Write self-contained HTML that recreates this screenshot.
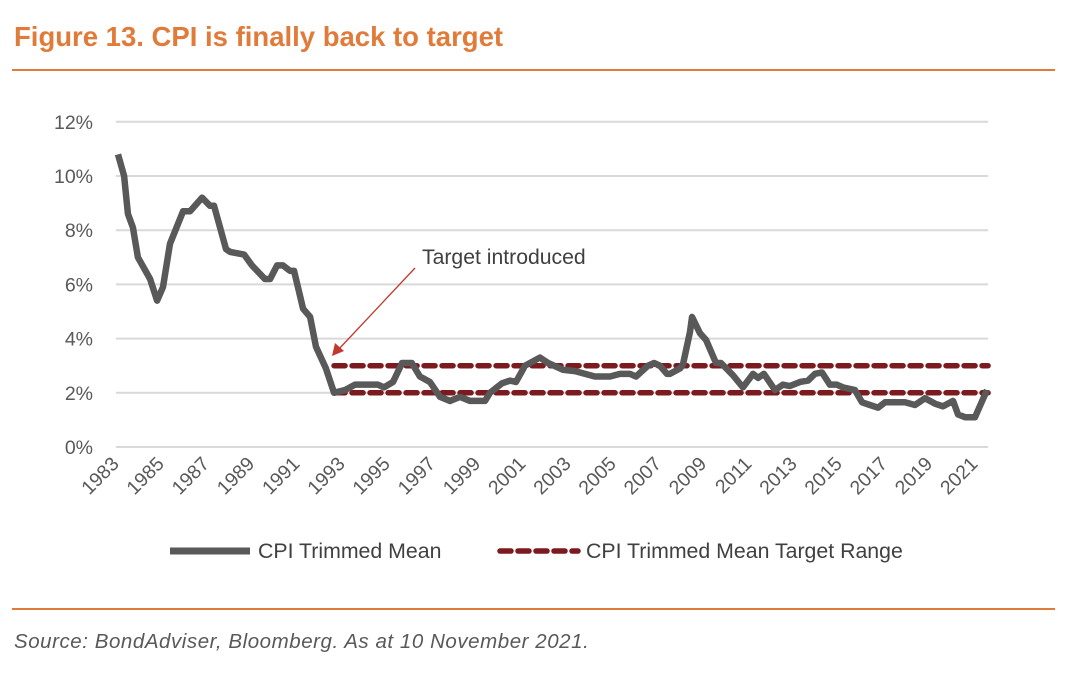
<!DOCTYPE html>
<html><head><meta charset="utf-8"><style>
body{margin:0;background:#fff;width:1078px;height:673px;overflow:hidden;font-family:"Liberation Sans",sans-serif}
</style></head><body>
<svg width="1078" height="673" xmlns="http://www.w3.org/2000/svg" id="svg">
<text x="14" y="46" font-size="27.5" font-weight="bold" fill="#e07b39">Figure 13. CPI is finally back to target</text>
<line x1="12" y1="70" x2="1055" y2="70" stroke="#e07b39" stroke-width="2"/>
<line x1="12" y1="609" x2="1055" y2="609" stroke="#e07b39" stroke-width="2"/>
<text x="14" y="648" font-size="20.5" font-style="italic" fill="#595959" letter-spacing="0.55">Source: BondAdviser, Bloomberg. As at 10 November 2021.</text>
<g id="grid"></g><g id="ylab"></g><g id="xlab"></g><g id="series"></g>
<text x="422" y="264" font-size="21.2" fill="#404040">Target introduced</text>
<line x1="415" y1="268" x2="338" y2="350" stroke="#c0392b" stroke-width="1.3"/>
<polygon points="332,356 335,343 344,351" fill="#c0392b"/>
<g>
<line x1="170" y1="551" x2="250" y2="551" stroke="#595959" stroke-width="7"/>
<text x="258" y="558" font-size="21.3" fill="#404040">CPI Trimmed Mean</text>
<line x1="500" y1="551" x2="578" y2="551" stroke="#7b1a1f" stroke-width="5.5" stroke-dasharray="11 7" stroke-linecap="round"/>
<text x="586" y="558" font-size="21.3" fill="#404040">CPI Trimmed Mean Target Range</text>
</g>
</svg>
<script>
const yTicks=[0,2,4,6,8,10,12];
const xTicks=[1983,1985,1987,1989,1991,1993,1995,1997,1999,2001,2003,2005,2007,2009,2011,2013,2015,2017,2019,2021];
const years=[1983.0,1983.27,1983.44,1983.66,1983.88,1984.42,1984.73,1984.99,1985.3,1985.88,1986.19,1986.72,1987.07,1987.25,1987.78,1987.96,1988.58,1988.93,1989.5,1989.73,1990.04,1990.3,1990.61,1990.79,1991.19,1991.5,1991.76,1992.2,1992.56,1993.04,1993.49,1994.5,1994.77,1995.17,1995.57,1996.0,1996.36,1996.8,1997.25,1997.69,1998.13,1998.58,1999.24,1999.46,1999.99,2000.35,2000.61,2001.01,2001.67,2002.03,2002.69,2003.22,2004.1,2004.77,2005.21,2005.65,2005.92,2006.45,2006.72,2006.98,2007.29,2007.42,2007.87,2008.0,2008.31,2008.4,2008.75,2009.02,2009.46,2009.68,2010.21,2010.65,2011.1,2011.32,2011.58,2012.07,2012.42,2012.73,2013.18,2013.53,2013.84,2014.15,2014.5,2014.81,2015.08,2015.61,2015.92,2016.27,2016.63,2016.94,2017.82,2018.27,2018.71,2019.15,2019.5,2019.95,2020.17,2020.48,2020.92,2021.45];
const cpi=[10.8,10.0,8.6,8.1,7.0,6.2,5.4,5.9,7.5,8.7,8.7,9.2,8.9,8.9,7.3,7.2,7.1,6.7,6.2,6.2,6.7,6.7,6.5,6.5,5.1,4.8,3.7,2.9,2.0,2.1,2.3,2.3,2.2,2.4,3.1,3.1,2.6,2.4,1.85,1.7,1.85,1.7,1.7,2.0,2.35,2.45,2.4,3.0,3.3,3.1,2.85,2.8,2.6,2.6,2.7,2.7,2.6,3.0,3.1,3.0,2.7,2.7,2.9,3.05,4.25,4.8,4.2,3.95,3.1,3.1,2.65,2.2,2.7,2.55,2.7,2.1,2.3,2.25,2.4,2.45,2.7,2.75,2.3,2.3,2.2,2.1,1.65,1.55,1.45,1.65,1.65,1.55,1.8,1.6,1.5,1.7,1.2,1.1,1.1,2.1];
const targetLow=2, targetHigh=3, targetStart=1992.56, targetEnd=2021.5;
const X=y=>118+(y-1983)*22.6;
const Y=v=>447-v*27.1;
const NS="http://www.w3.org/2000/svg";
function mk(t,a,p){const e=document.createElementNS(NS,t);for(const k in a)e.setAttribute(k,a[k]);p.appendChild(e);return e;}
const grid=document.getElementById('grid'),yl=document.getElementById('ylab'),xl=document.getElementById('xlab'),se=document.getElementById('series');
yTicks.forEach(v=>{
 const l=mk('line',{x1:116,x2:988,y1:Y(v),y2:Y(v),stroke:'#d9d9d9','stroke-width':2},grid);
 
 
 const t=mk('text',{x:93,y:Y(v)+7,'font-size':19.5,fill:'#595959','text-anchor':'end'},yl);
 t.textContent=v+'%';
 
 
});
xTicks.forEach(yr=>{
 const x=X(yr)+2;
 const t=mk('text',{x:x,y:465,'font-size':19.5,fill:'#595959','text-anchor':'end',transform:`rotate(-45 ${x} 465)`},xl);
 t.textContent=yr;
 
 
});
[targetHigh,targetLow].forEach(v=>{
 const l=mk('line',{x1:X(targetStart),x2:X(targetEnd),y1:Y(v),y2:Y(v),stroke:'#7b1a1f','stroke-width':5.5,'stroke-dasharray':'11 7','stroke-linecap':'round'},se);
 
 
});
const p=mk('polyline',{points:years.map((y,i)=>X(y)+','+Y(cpi[i])).join(' '),fill:'none',stroke:'#595959','stroke-width':6.5,'stroke-linejoin':'round'},se);


</script>
</body></html>
